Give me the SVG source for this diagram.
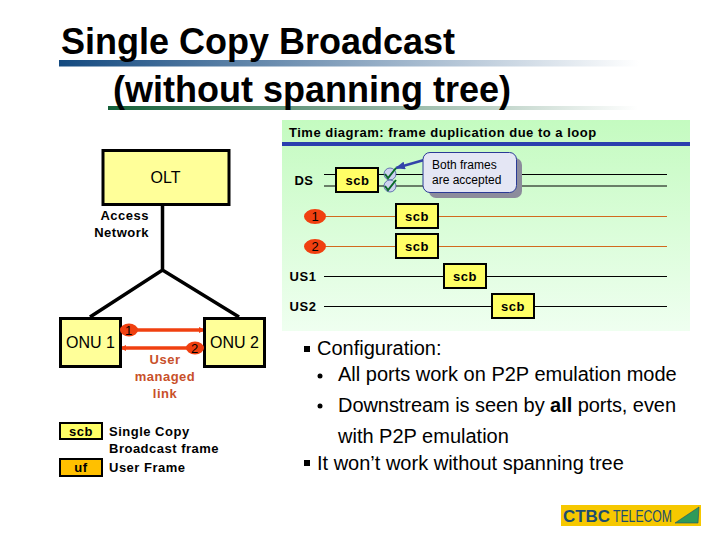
<svg xmlns="http://www.w3.org/2000/svg" width="720" height="540" viewBox="0 0 720 540">
<style>
text{font-family:"Liberation Sans",Arial,sans-serif;fill:#000}
.title{font-size:36px;font-weight:bold}
.b{font-weight:bold}
.box{fill:#ffff66;stroke:#000;stroke-width:2}
.big{fill:#ffff99;stroke:#000;stroke-width:3}
.l{font-size:13px;font-weight:bold;text-anchor:middle;letter-spacing:.5px}
.lab{font-size:13px;font-weight:bold;letter-spacing:.5px}
.bl{font-size:20px}
.k{stroke:#000;stroke-width:1;fill:none}
.r{stroke:#d2691e;stroke-width:1;fill:none}
.net{stroke:#000;stroke-width:3.500;fill:none}
.red{stroke:#f04010;stroke-width:3.500;fill:none}
.oval{fill:#f04010}
.check{fill:#cdd3ee;stroke:#334499;stroke-width:.7}
.tick{stroke:#0a6a2a;stroke-width:2;fill:none}
</style>
<defs>
<linearGradient id="g1" x1="0" x2="1" y1="0" y2="0"><stop offset="0" stop-color="#144a80"/><stop offset="1" stop-color="#fff"/></linearGradient>
<linearGradient id="g2" x1="0" x2="1" y1="0" y2="0"><stop offset="0" stop-color="#146038"/><stop offset="1" stop-color="#fff"/></linearGradient>
<linearGradient id="pan" x1="0" x2="0" y1="0" y2="1"><stop offset="0" stop-color="#c4fbc0"/><stop offset="1" stop-color="#effff0"/></linearGradient>
<marker id="rh" markerWidth="6" markerHeight="6" refX="5" refY="3" orient="auto" markerUnits="userSpaceOnUse"><path d="M0 0L6 3L0 6z" fill="#f04010"/></marker>
<marker id="bh" markerWidth="10" markerHeight="8" refX="9" refY="4" orient="auto" markerUnits="userSpaceOnUse"><path d="M0 0L10 4L0 8z" fill="#3344aa"/></marker>
</defs>
<rect width="720" height="540" fill="#fff"/>
<g id="title">
<rect x="59" y="60" width="580" height="6.500" fill="url(#g1)"/>
<rect x="108" y="106" width="530" height="4" fill="url(#g2)"/>
<text class="title" x="61" y="54">Single Copy Broadcast</text>
<text class="title" x="113" y="102">(without spanning tree)</text>
</g>
<g id="panel">
<rect x="282" y="120" width="408" height="211" fill="url(#pan)"/>
<rect x="282" y="142" width="408" height="4" fill="#2a3fae"/>
<text class="lab" x="289" y="137">Time diagram: frame duplication due to a loop</text>
</g>
<g id="connectors">
<path class="net" d="M162.500 204V270M90 317L162.500 270L239 317"/>
<path class="red" d="M121 330H204" marker-end="url(#rh)"/>
<path class="red" d="M204 348H121" marker-end="url(#rh)"/>
<path class="k" d="M324 174.500H667M324 186H667M324 276.500H667M324 306.500H667"/>
<path class="r" d="M324 216.500H667M324 246.500H667"/>
<path d="M424 160L396 168" stroke="#3344aa" stroke-width="2.500" fill="none" marker-end="url(#bh)"/>
</g>
<g id="olt"><rect class="big" x="103" y="150.500" width="126" height="54"/><text x="165.500" y="183" font-size="16" text-anchor="middle">OLT</text></g>
<g id="access"><text class="lab" x="149" y="220" text-anchor="end">Access</text><text class="lab" x="149" y="237" text-anchor="end">Network</text></g>
<g id="onu1"><rect class="big" x="60.500" y="318.500" width="60" height="48"/><text x="90.500" y="348" font-size="16" text-anchor="middle">ONU 1</text></g>
<g id="onu2"><rect class="big" x="204.500" y="318.500" width="60" height="48"/><text x="234.500" y="348" font-size="16" text-anchor="middle">ONU 2</text></g>
<g id="port1"><ellipse class="oval" cx="129" cy="330" rx="9" ry="6.500"/><text x="128.500" y="335" font-size="13" text-anchor="middle">1</text></g>
<g id="port2"><ellipse class="oval" cx="195" cy="348" rx="9" ry="6.500"/><text x="194.500" y="353" font-size="13" text-anchor="middle">2</text></g>
<g id="userlink">
<text class="lab" x="165" y="364" text-anchor="middle" style="fill:#c8502a">User</text>
<text class="lab" x="165" y="381" text-anchor="middle" style="fill:#c8502a">managed</text>
<text class="lab" x="165" y="398" text-anchor="middle" style="fill:#c8502a">link</text>
</g>
<g id="legend-scb"><rect class="box" x="60" y="423" width="42" height="16"/><text class="l" x="81" y="436">scb</text><text class="lab" x="109" y="436">Single Copy</text><text class="lab" x="109" y="453">Broadcast frame</text></g>
<g id="legend-uf"><rect class="box" x="60" y="459" width="42" height="17" style="fill:#ffc000"/><text class="l" x="81" y="472">uf</text><text class="lab" x="109" y="472">User Frame</text></g>
<g id="ds"><text class="l" x="304" y="185">DS</text><rect class="box" x="336" y="168" width="42" height="24"/><text class="l" x="357.500" y="185">scb</text></g>
<g id="checks">
<ellipse class="check" cx="390" cy="174" rx="6" ry="6"/><ellipse class="check" cx="390" cy="186" rx="6" ry="6"/>
<path class="tick" d="M385 174L388 178L396 168M385 186L388 190L396 180"/>
</g>
<g id="callout">
<rect x="429" y="158" width="93" height="40" rx="7" fill="#8c8c9c"/>
<rect x="423" y="152.500" width="93.500" height="40" rx="7" fill="#e4e6f4" stroke="#2a3a96" stroke-width="1"/>
<text x="432" y="169" font-size="12">Both frames</text>
<text x="432" y="184" font-size="12">are accepted</text>
</g>
<g id="t1"><ellipse class="oval" cx="315" cy="216.500" rx="11" ry="7.500"/><text x="315" y="221" font-size="13" text-anchor="middle">1</text><rect class="box" x="396" y="204" width="42" height="24"/><text class="l" x="417" y="221">scb</text></g>
<g id="t2"><ellipse class="oval" cx="315" cy="246.500" rx="11" ry="7.500"/><text x="315" y="251" font-size="13" text-anchor="middle">2</text><rect class="box" x="396" y="234" width="42" height="24"/><text class="l" x="417" y="251">scb</text></g>
<g id="us1"><text class="l" x="303" y="281">US1</text><rect class="box" x="444" y="264" width="42" height="24"/><text class="l" x="465" y="281">scb</text></g>
<g id="us2"><text class="l" x="303" y="311">US2</text><rect class="box" x="492" y="294" width="42" height="24"/><text class="l" x="513" y="311">scb</text></g>
<g id="bullets">
<rect x="304" y="346" width="6" height="6"/>
<text class="bl" x="317" y="355">Configuration:</text>
<circle cx="320" cy="376" r="2.500"/>
<text class="bl" x="338" y="381">All ports work on P2P emulation mode</text>
<circle cx="320" cy="406" r="2.500"/>
<text class="bl" x="338" y="412" textLength="338">Downstream is seen by <tspan class="b">all</tspan> ports, even</text>
<text class="bl" x="338" y="443">with P2P emulation</text>
<rect x="304" y="460" width="6" height="6"/>
<text class="bl" x="317" y="470">It won’t work without spanning tree</text>
</g>
<g id="logo">
<rect x="561" y="505" width="140" height="21" fill="#f6c800"/>
<text x="563" y="522" font-size="17" font-weight="bold" textLength="47" lengthAdjust="spacingAndGlyphs" style="fill:#1d4d6e">CTBC</text>
<text x="613" y="522" font-size="17" textLength="59" lengthAdjust="spacingAndGlyphs" style="fill:#1d4d6e">TELECOM</text>
<path d="M675 523L699 507L698 523z" fill="#2f9a5a" stroke="#1d4d6e" stroke-width=".6"/>
</g>
</svg>
